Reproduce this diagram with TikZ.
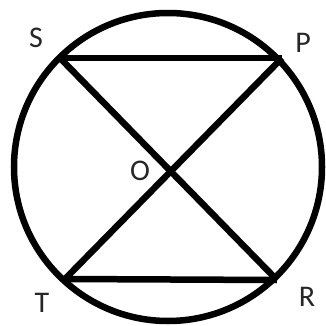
\documentclass[tikz,border=0pt]{standalone}
\usepackage{fontspec}
\setmainfont{Carlito}
\begin{document}
\begin{tikzpicture}[x=1pt,y=-1pt,
  stroke/.style={line width=6.5pt,black},
  lbl/.style={font=\fontsize{30}{30}\selectfont,text=black!85,inner sep=0pt}]
\useasboundingbox (0,0) rectangle (326,326);
\coordinate (C) at (168,167);
\coordinate (S) at (60,58);
\coordinate (P) at (282,58);
\coordinate (T) at (65,279);
\coordinate (R) at (277,280);
\draw[stroke] (C) circle[radius=154];
\draw[stroke] (S) -- (P);
\draw[stroke] (T) -- (R);
\draw[stroke] (S) -- (R);
\draw[stroke] (T) -- (P);
\node[lbl] (lS) at (36,38) {S};
\node[lbl] (lP) at (303,43) {P};
\node[lbl] (lO) at (140,171) {O};
\node[lbl] (lT) at (42,303) {T};
\node[lbl] (lR) at (307,297) {R};
\end{tikzpicture}
\end{document}
